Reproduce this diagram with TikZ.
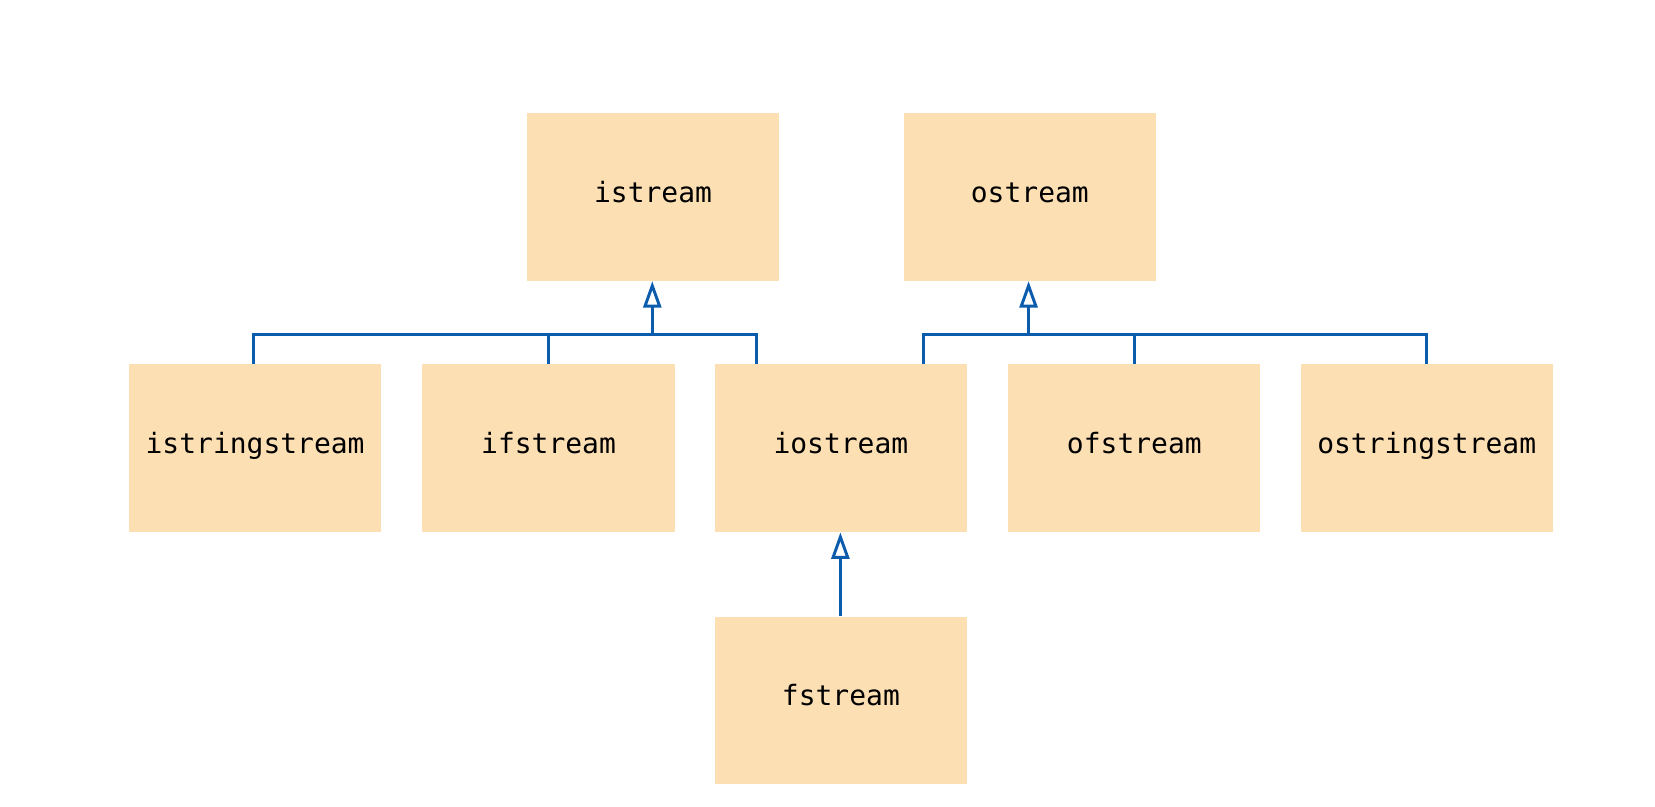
\documentclass[tikz,border=0pt]{standalone}
\usepackage{fontspec}
\setmonofont{DejaVu Sans Mono}
\usetikzlibrary{arrows.meta}
\definecolor{boxfill}{HTML}{FDDFB4}
\definecolor{linkblue}{HTML}{0B5CAD}
\begin{document}
\begin{tikzpicture}[x=1pt,y=-1pt,
  cls/.style={fill=boxfill, draw=none, minimum width=239pt, minimum height=159pt, inner sep=0pt,
    text height=1.25em, text depth=0.22em,
    font=\fontsize{26.5}{30}\selectfont\ttfamily, anchor=north west},
  link/.style={draw=linkblue, line width=2.8pt},
  inh/.style={link, -{Triangle[open, fill=white, length=25pt, width=17pt, line width=2.8pt]}}]
\useasboundingbox (0,0) rectangle (1568,764);
\node[cls] (istream) at (499,107) {istream};
\node[cls] (ostream) at (856,107) {ostream};
\node[cls] (istringstream) at (122,345) {istringstream};
\node[cls] (ifstream) at (400,345) {ifstream};
\node[cls] (iostream) at (677,345) {iostream};
\node[cls] (ofstream) at (955,345) {ofstream};
\node[cls] (ostringstream) at (1232,345) {ostringstream};
\node[cls] (fstream) at (677,584) {fstream};
% left group
\coordinate (lj) at (618,317);
\draw[link] (istringstream.north west) ++(118,0) |- (lj);
\draw[link] (ifstream.north) |- (lj);
\draw[link] (iostream.north west) ++(40,0) |- (lj);
\draw[inh] (lj) -- (lj |- istream.south);
% right group
\coordinate (rj) at (974.5,317);
\draw[link] (iostream.north west) ++(198,0) |- (rj);
\draw[link] (ofstream.north) |- (rj);
\draw[link] (ostringstream.north) |- (rj);
\draw[inh] (rj) -- (rj |- ostream.south);
% fstream
\draw[inh] ([xshift=-0.5pt]fstream.north) -- ([xshift=-0.5pt]iostream.south);
\end{tikzpicture}
\end{document}
